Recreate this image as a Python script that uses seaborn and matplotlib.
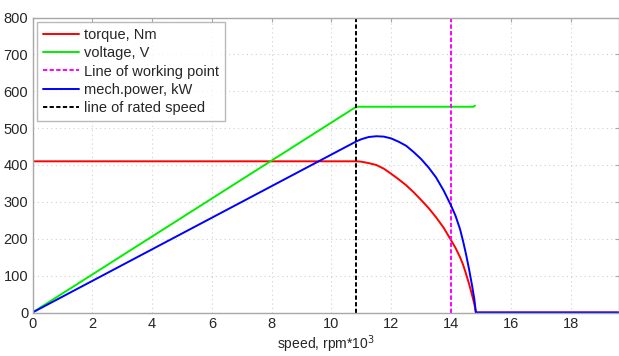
import matplotlib
matplotlib.use("Agg")
import matplotlib.pyplot as plt
import seaborn as sns
import pandas as pd

# speed axis samples, rpm*10^3
speed = [0.0, 10.83, 11.0, 11.25, 11.5, 11.75, 12.0, 12.25, 12.5, 12.75, 13.0,
         13.25, 13.5, 13.75, 14.0, 14.15, 14.3, 14.4, 14.5, 14.6, 14.7, 14.78,
         14.83, 19.6]
torque = [410, 410, 409, 405, 400, 390, 376, 361, 345, 326, 305,
          283, 258, 230, 196, 175, 150, 130, 105, 78, 48, 22,
          0, 0]
power = [0, 464, 470, 476, 478, 477, 472, 463, 452, 435, 416,
         393, 366, 331, 290, 262, 226, 194, 158, 118, 74, 35,
         0, 0]

volt_speed = [0.0, 10.83, 14.75, 14.8]
voltage = [0, 558, 558, 561]

rated_speed = 10.83
working_point = 14.0

x_ticks = [0, 2, 4, 6, 8, 10, 12, 14, 16, 18]
y_ticks = [0, 100, 200, 300, 400, 500, 600, 700, 800]

sns.set_style("white")
plt.rcParams["font.family"] = ["Liberation Sans", "DejaVu Sans"]

fig = plt.figure(figsize=(6.19, 3.56), dpi=100)
ax = fig.add_axes([32.5 / 619, 1 - 312.5 / 356, 1 - 32.5 / 619 - 0.5 / 619, (312.5 - 17.5) / 356])

df = pd.DataFrame({"speed": speed, "torque": torque, "power": power})
dv = pd.DataFrame({"speed": volt_speed, "voltage": voltage})

sns.lineplot(data=df, x="speed", y="torque", ax=ax, color="#ff0000", lw=1.4,
             label="torque, Nm", sort=False)
sns.lineplot(data=dv, x="speed", y="voltage", ax=ax, color="#00ee00", lw=1.4,
             label="voltage, V", sort=False)
ax.axvline(working_point, color="#ff00ff", lw=1.4, ls=(0, (2.2, 1.2)),
           label="Line of working point")
sns.lineplot(data=df, x="speed", y="power", ax=ax, color="#0000ff", lw=1.4,
             label="mech.power, kW", sort=False)
ax.axvline(rated_speed, color="black", lw=1.4, ls=(0, (2.2, 1.2)),
           label="line of rated speed")

ax.set_xlim(0, 19.6)
ax.set_ylim(0, 800)
ax.set_xticks(x_ticks)
ax.set_yticks(y_ticks)
ax.set_xlabel("speed, rpm*10$^3$", fontsize=10, color="#262626", labelpad=2)
ax.set_ylabel("")

ax.grid(True, color="#d0d0d0", ls=(0, (1, 3)), lw=0.8)
for s in ax.spines.values():
    s.set_color("#a8a8a8")
    s.set_linewidth(1.0)
ax.tick_params(direction="in", length=3, color="#a8a8a8", labelsize=10.5,
               labelcolor="#262626", pad=3, top=True, right=True)

leg = ax.legend(loc="upper left", bbox_to_anchor=(0.008, 0.985), fontsize=10.5,
                fancybox=False, frameon=True, handlelength=2.5, handletextpad=0.3,
                borderpad=0.4, labelspacing=0.3, borderaxespad=0.0)
leg.get_frame().set_edgecolor("#a8a8a8")
leg.get_frame().set_linewidth(1.0)
for t in leg.get_texts():
    t.set_color("#262626")

fig.savefig("out.png", dpi=100)
